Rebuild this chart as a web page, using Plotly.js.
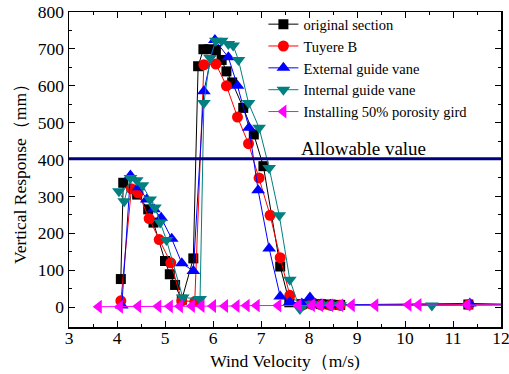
<!DOCTYPE html>
<html>
<head>
<meta charset="utf-8">
<script src="https://cdn.plot.ly/plotly-3.0.1.min.js"></script>
<style>html,body{margin:0;padding:0;background:#fff;}#chart{width:509px;height:374px;}</style>
</head>
<body>
<div id="chart"></div>
<script>
// Original section
const origX = [4.08, 4.13, 4.42, 4.65, 4.76, 5.00, 5.10, 5.21, 5.35, 5.59, 5.69, 5.80, 5.92, 6.06, 6.18, 6.28, 6.40, 6.63, 6.85, 7.05, 7.40, 7.59, 7.85, 8.05, 8.25, 8.45, 8.65, 11.32, 12.4];
const origY = [76, 337, 305, 265, 229, 125, 89, 60, 20, 132, 653, 699, 699, 697, 670, 639, 609, 540, 468, 382, 110, 13, 8, 10, 8, 7, 6, 7, 7];
// Tuyere B
const tuyX = [4.08, 4.30, 4.44, 4.67, 4.88, 5.12, 5.35, 5.62, 5.81, 6.06, 6.28, 6.51, 6.74, 6.96, 7.19, 7.40, 7.60, 7.85, 8.05, 8.25, 8.45, 8.65, 11.33, 12.4];
const tuyY = [17, 321, 310, 240, 183, 120, 17, 15, 657, 659, 600, 515, 443, 350, 249, 134, 32, 5, 8, 6, 5, 5, 7, 7];
// External guide vane
const extX = [4.10, 4.28, 4.45, 4.62, 4.77, 4.92, 5.14, 5.35, 5.59, 5.81, 6.04, 6.32, 6.51, 6.75, 6.94, 7.17, 7.40, 7.60, 7.85, 8.02, 8.25, 8.45, 11.35, 12.4];
const extY = [4, 357, 325, 292, 265, 242, 185, 119, 98, 585, 724, 677, 600, 486, 317, 159, 29, 14, 10, 26, 8, 6, 10, 7];
// Internal guide vane
const intX = [4.04, 4.15, 4.28, 4.41, 4.53, 4.69, 4.79, 4.90, 5.03, 5.37, 5.73, 5.81, 5.94, 6.06, 6.18, 6.32, 6.42, 6.53, 6.74, 6.96, 7.17, 7.38, 7.60, 7.81, 8.05, 8.25, 8.45, 8.65, 10.56, 12.4];
const intY = [314, 287, 350, 344, 330, 292, 270, 229, 182, 26, 22, 553, 675, 722, 722, 713, 709, 670, 553, 486, 377, 249, 74, -5, 8, 6, 5, 5, 4, 6];
// Installing 50% porosity gird
const gridX = [3.62, 4.06, 4.44, 4.86, 5.10, 5.31, 5.56, 5.76, 6.00, 6.25, 6.49, 6.70, 6.91, 7.36, 7.78, 8.06, 8.23, 8.44, 8.65, 8.89, 9.38, 10.07, 10.28, 11.30, 12.4];
const gridY = [1, 1, 2, 2, 2, 2, 3, 3, 3, 3, 3, 4, 4, 4, 5, 5, 5, 5, 5, 5, 5, 6, 6, 6, 6];
const allowable = 402;

const seriesNames = ["original section", "Tuyere B", "External guide vane", "Internal guide vane", "Installing 50% porosity gird"];
const xs = [origX, tuyX, extX, intX, gridX];
const ys = [origY, tuyY, extY, intY, gridY];
const colors = ["#000000", "#ff0000", "#0000ff", "#008080", "#ff00ff"];
const symbols = ["square", "circle", "triangle-up", "triangle-down", "triangle-left"];
const sizes = [10, 11, 12, 12, 12];

const traces = seriesNames.map((n, i) => ({
  x: xs[i], y: ys[i], name: n, type: "scatter", mode: "lines+markers",
  line: {color: colors[i], width: 1},
  marker: {symbol: symbols[i], color: colors[i], size: sizes[i]},
  cliponaxis: true
}));

const font = "Liberation Serif";
const layout = {
  width: 509, height: 374,
  margin: {l: 69, r: 8, t: 12, b: 47},
  paper_bgcolor: "#fff", plot_bgcolor: "#fff",
  font: {family: font, size: 15, color: "#000"},
  showlegend: true,
  legend: {x: 0.45, y: 1.012, xanchor: "left", yanchor: "top", bgcolor: "rgba(0,0,0,0)",
           font: {family: font, size: 14.5}, tracegroupgap: 0, itemwidth: 30},
  xaxis: {range: [3, 12], dtick: 1, showgrid: false, zeroline: false, showline: true, linecolor: "#000", linewidth: 1.5,
          mirror: "ticks", ticks: "inside", ticklen: 6, tickcolor: "#000",
          minor: {dtick: 0.5, ticks: "inside", ticklen: 3, tickcolor: "#000"},
          tickfont: {family: font, size: 17.5}, ticklabelstandoff: -6, ticklabeloverflow: "allow",
          title: {text: "Wind Velocity（m/s)", font: {family: font, size: 17.5}, standoff: 8}},
  yaxis: {range: [-54, 800], tickvals: [0,100,200,300,400,500,600,700,800], showgrid: false, zeroline: false, showline: true, linecolor: "#000", linewidth: 1.5,
          mirror: "ticks", ticks: "inside", ticklen: 6, tickcolor: "#000",
          minor: {tickvals: [50,150,250,350,450,550,650,750], ticks: "inside", ticklen: 3, tickcolor: "#000"},
          tickfont: {family: font, size: 17.5}, ticklabeloverflow: "allow",
          title: {text: "Vertical Response（mm）", font: {family: font, size: 17.5}, standoff: 6}},
  shapes: [{type: "line", xref: "paper", x0: 0, x1: 1, yref: "y", y0: allowable, y1: allowable,
            line: {color: "#000080", width: 3}}],
  annotations: [{x: 9.13, y: allowable, xref: "x", yref: "y", yanchor: "bottom", yshift: -2, showarrow: false,
                 text: "Allowable value", font: {family: font, size: 19, color: "#000"}}]
};
Plotly.newPlot("chart", traces, layout, {displayModeBar: false, staticPlot: true});
</script>
</body>
</html>
